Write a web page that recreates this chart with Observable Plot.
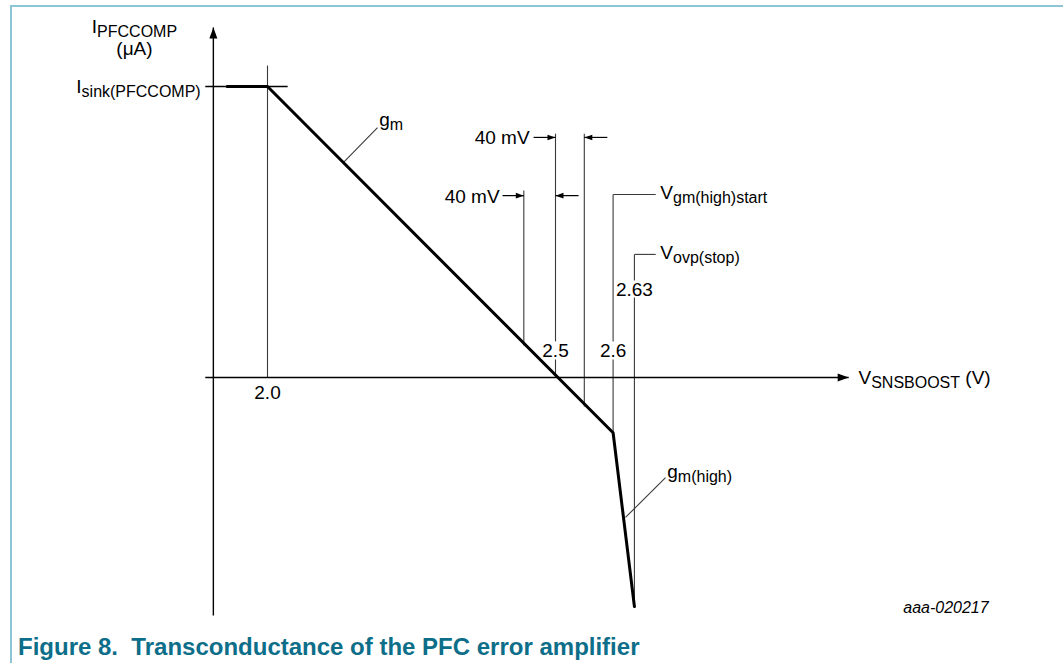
<!DOCTYPE html>
<html><head><meta charset="utf-8">
<script src="https://cdn.jsdelivr.net/npm/d3@7"></script>
<script src="https://cdn.jsdelivr.net/npm/@observablehq/plot@0.6"></script>
<style>
body{margin:0;background:#fff;}
#wrap{position:relative;width:1063px;height:663px;overflow:hidden;font-family:Arial,"Liberation Sans",sans-serif;background:#fff;}
#frame{position:absolute;left:10px;top:5px;right:-4px;bottom:-4px;border-top:2px solid #8dc5d5;border-left:2px solid #8dc5d5;}
#chart{position:absolute;left:0;top:0;}
#caption{position:absolute;left:18px;top:633px;font-weight:bold;font-size:24px;color:#0d6e8a;white-space:pre;font-family:Arial,"Liberation Sans",sans-serif;}
</style></head>
<body>
<div id="wrap"><div id="frame"></div><div id="chart"></div><div id="caption"></div></div>
<script>
// ---- data (x: V_SNSBOOST in volts, y: I_PFCCOMP normalised to I_sink) ----
const curveV = [1.93, 2.0, 2.6, 2.637];
const curveI = [1, 1, -0.19, -0.787];

const xAxisV = [1.892, 3.009];      // horizontal axis extent, at I = 0
const yAxisV = 1.906;               // vertical axis position
const yAxisI = [-0.818, 1.203];     // vertical axis extent
const isinkTickV = [1.892, 2.035];  // I_sink reference tick
const isinkLevel = 1;

// vertical guide segments
const guideV   = [2.0,   2.445, 2.5,   2.5,   2.55,  2.6,   2.6,   2.637, 2.637];
const guideTop = [1.072, 0.643, 0.838, 0.062, 0.838, 0.629, 0.062, 0.423, 0.275];
const guideBot = [0,     0.11,  0.124, 0,     -0.1,  0.124, -0.19, 0.333, -0.787];

// leader lines
const leaderV1 = [2.6,   2.637, 2.132, 2.6215];
const leaderI1 = [0.629, 0.423, 0.739, -0.481];
const leaderV2 = [2.674, 2.674, 2.191, 2.691];
const leaderI2 = [0.629, 0.423, 0.859, -0.344];

// 40 mV dimension arrows
const mvFromV = [2.462, 2.59, 2.408, 2.54];
const mvToV   = [2.5,   2.55, 2.445, 2.5];
const mvI     = [0.825, 0.825, 0.625, 0.625];

// tick labels
const tickText = ["2.0", "2.5", "2.6", "2.63"];
const tickV    = [2.0,   2.5,   2.6,   2.637];
const tickI    = [-0.052, 0.093, 0.093, 0.302];

// annotation labels
const yTitle = ["I[PFCCOMP]", "(μA)"];
const yTitleV = 1.769;
const yTitleI = [1.206, 1.13];
const isinkText = "I[sink(PFCCOMP)]";
const isinkTextV = 1.884;
const xTitle = "V[SNSBOOST] (V)";
const xTitleV = 3.026;
const mvText = ["40 mV", "40 mV"];
const mvTextV = [2.455, 2.403];
const mvTextI = [0.823, 0.622];
const noteText = ["V[gm(high)start]", "V[ovp(stop)]", "g[m]", "g[m(high)]"];
const noteV    = [2.682, 2.682, 2.194, 2.694];
const noteI    = [0.634, 0.428, 0.885, -0.325];
const figId = "aaa-020217";
const figIdV = 3.252, figIdI = -0.79;
const captionText = "Figure 8.  Transconductance of the PFC error amplifier";

// ---- build tables ----
const curve = curveV.map((v, i) => ({v, i: curveI[i]}));
const axes = [
  {v1: xAxisV[0], i1: 0, v2: xAxisV[1], i2: 0},
  {v1: yAxisV, i1: yAxisI[0], v2: yAxisV, i2: yAxisI[1]},
  {v1: isinkTickV[0], i1: isinkLevel, v2: isinkTickV[1], i2: isinkLevel}
];
const guides = guideV.map((v, k) => ({v1: v, i1: guideTop[k], v2: v, i2: guideBot[k]}));
const leaders = leaderV1.map((v, k) => ({v1: v, i1: leaderI1[k], v2: leaderV2[k], i2: leaderI2[k]}));
const mvArrows = mvFromV.map((v, k) => ({v1: v, i1: mvI[k], v2: mvToV[k], i2: mvI[k], dir: mvToV[k] > v ? 1 : -1}));

const mk = (pts) => ({draw(ctx) { ctx.moveTo(pts[0][0], pts[0][1]); for (const p of pts.slice(1)) ctx.lineTo(p[0], p[1]); ctx.closePath(); }});
const bigUp    = mk([[0,0],[4,11],[-4,11]]);
const bigRight = mk([[0,0],[-11,4],[-11,-4]]);
const smRight  = mk([[0,0],[-8,2.8],[-8,-2.8]]);
const smLeft   = mk([[0,0],[8,2.8],[8,-2.8]]);

const FS = 19;
const seg = {x1: "v1", y1: "i1", x2: "v2", y2: "i2"};

const plot = Plot.plot({
  width: 1063,
  height: 625,
  x: {domain: [2.0, 2.5], range: [267, 555], axis: null},
  y: {domain: [0, 1], range: [377, 86], axis: null},
  style: {fontFamily: 'Arial, "Liberation Sans", sans-serif', fontSize: FS + "px", background: "transparent", color: "#000"},
  marks: [
    Plot.link(guides, {...seg, stroke: "#3a3a3a", strokeWidth: 1.1}),
    Plot.link(leaders, {...seg, stroke: "#3a3a3a", strokeWidth: 1.1}),
    Plot.link(mvArrows, {...seg, stroke: "#000", strokeWidth: 1.2}),
    Plot.dot(mvArrows.filter(d => d.dir > 0), {x: "v2", y: "i2", symbol: smRight, r: 1, fill: "#000", stroke: "none"}),
    Plot.dot(mvArrows.filter(d => d.dir < 0), {x: "v2", y: "i2", symbol: smLeft, r: 1, fill: "#000", stroke: "none"}),
    Plot.link(axes, {...seg, stroke: "#000", strokeWidth: 1.4}),
    Plot.dot([{v: yAxisV, i: yAxisI[1]}], {x: "v", y: "i", symbol: bigUp, r: 1, fill: "#000", stroke: "none"}),
    Plot.dot([{v: xAxisV[1], i: 0}], {x: "v", y: "i", symbol: bigRight, r: 1, fill: "#000", stroke: "none"}),
    Plot.line(curve, {x: "v", y: "i", stroke: "#000", strokeWidth: 3, strokeLinejoin: "miter"}),
    Plot.text(tickText.map((t, k) => ({t, v: tickV[k], i: tickI[k]})), {x: "v", y: "i", text: "t", textAnchor: "middle", fill: "#000"}),
    Plot.text(yTitle.map((t, k) => ({t, v: yTitleV, i: yTitleI[k]})), {x: "v", y: "i", text: "t", textAnchor: "middle", fill: "#000"}),
    Plot.text([{t: isinkText, v: isinkTextV, i: isinkLevel}], {x: "v", y: "i", text: "t", textAnchor: "end", fill: "#000"}),
    Plot.text([{t: xTitle, v: xTitleV, i: 0}], {x: "v", y: "i", text: "t", textAnchor: "start", fill: "#000"}),
    Plot.text(mvText.map((t, k) => ({t, v: mvTextV[k], i: mvTextI[k]})), {x: "v", y: "i", text: "t", textAnchor: "end", fill: "#000"}),
    Plot.text(noteText.map((t, k) => ({t, v: noteV[k], i: noteI[k]})), {x: "v", y: "i", text: "t", textAnchor: "start", fill: "#000"}),
    Plot.text([{t: figId, v: figIdV, i: figIdI}], {x: "v", y: "i", text: "t", textAnchor: "end", fill: "#000", fontSize: 16, fontStyle: "italic"})
  ]
});

// subscripts: text written as main[sub]rest
const NS = "http://www.w3.org/2000/svg";
plot.querySelectorAll("text").forEach(t => {
  const m = t.textContent.match(/^([^\[]*)\[([^\]]*)\](.*)$/);
  if (!m) return;
  t.textContent = "";
  const a = document.createElementNS(NS, "tspan"); a.textContent = m[1]; t.appendChild(a);
  const b = document.createElementNS(NS, "tspan"); b.textContent = m[2];
  b.setAttribute("font-size", "16px"); b.setAttribute("dy", "4"); t.appendChild(b);
  if (m[3]) { const c = document.createElementNS(NS, "tspan"); c.textContent = m[3]; c.setAttribute("dy", "-4"); t.appendChild(c); }
});

document.getElementById("chart").appendChild(plot);
document.getElementById("caption").textContent = captionText;
</script>
</body></html>
